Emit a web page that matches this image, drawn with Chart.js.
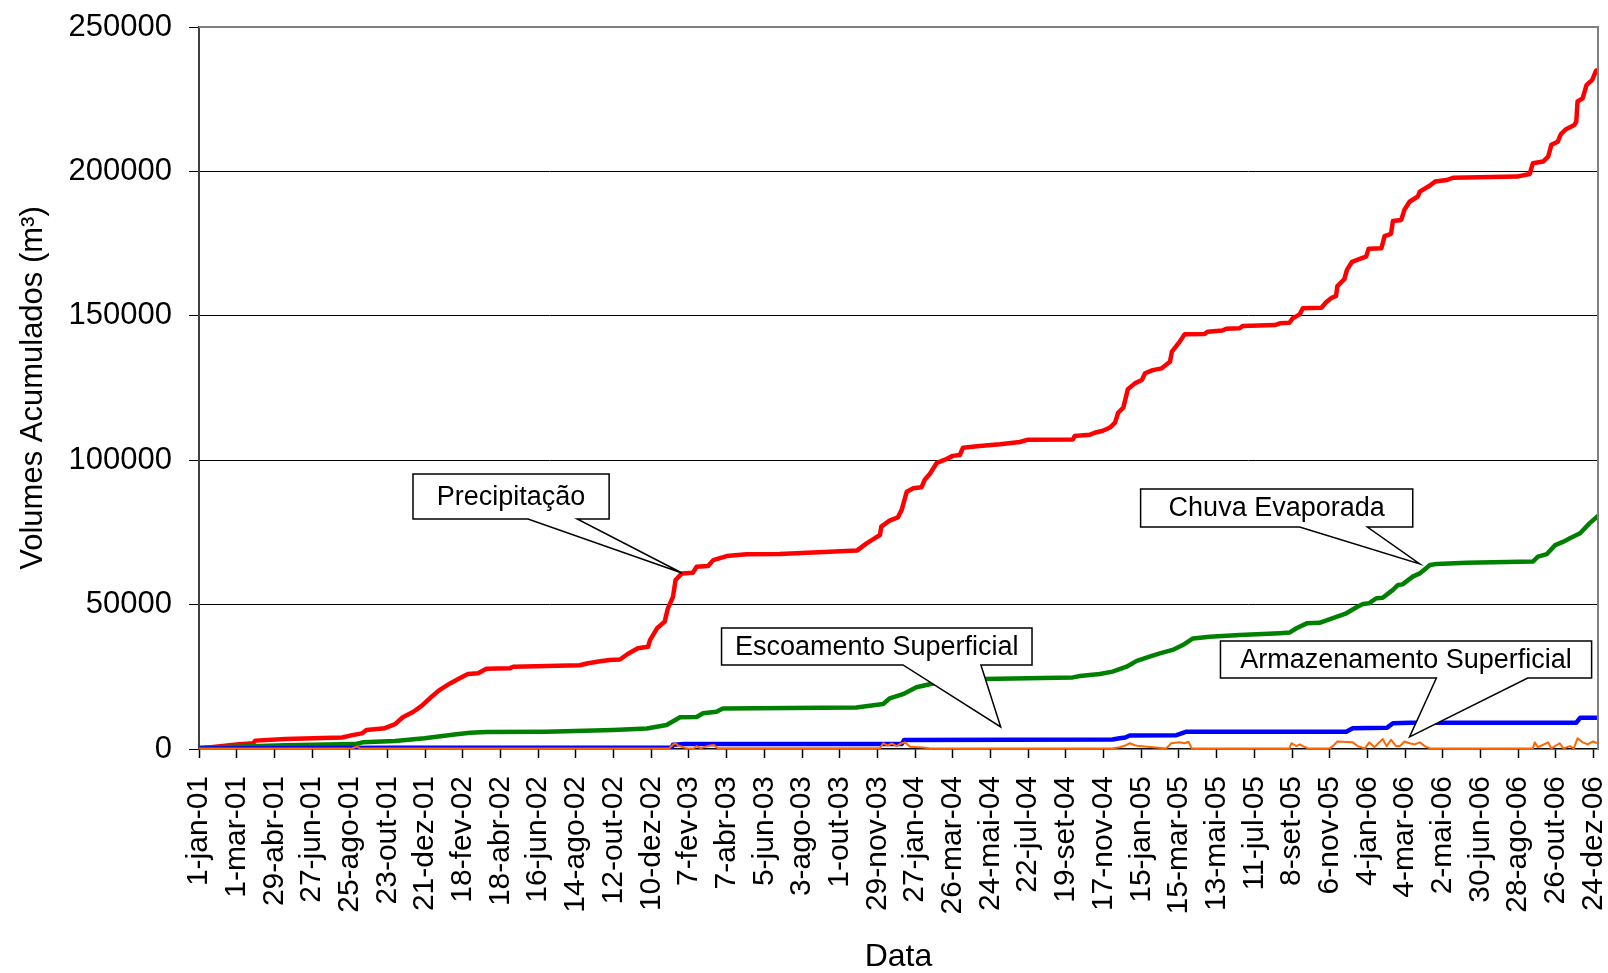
<!DOCTYPE html>
<html>
<head>
<meta charset="utf-8">
<title>Volumes Acumulados</title>
<script src="https://cdn.jsdelivr.net/npm/chart.js@4.4.1/dist/chart.umd.min.js"></script>
<style>
  html, body { margin: 0; padding: 0; background: #ffffff; }
  #grafico { display: block; }
</style>
</head>
<body>
<canvas id="grafico" width="1608" height="973"></canvas>
<script>
// Rótulos do eixo das datas (um a cada 59 dias)
const rotulosData = [
  '1-jan-01', '1-mar-01', '29-abr-01', '27-jun-01', '25-ago-01', '23-out-01', '21-dez-01',
  '18-fev-02', '18-abr-02', '16-jun-02', '14-ago-02', '12-out-02', '10-dez-02',
  '7-fev-03', '7-abr-03', '5-jun-03', '3-ago-03', '1-out-03', '29-nov-03',
  '27-jan-04', '26-mar-04', '24-mai-04', '22-jul-04', '19-set-04', '17-nov-04',
  '15-jan-05', '15-mar-05', '13-mai-05', '11-jul-05', '8-set-05', '6-nov-05',
  '4-jan-06', '4-mar-06', '2-mai-06', '30-jun-06', '28-ago-06', '26-out-06', '24-dez-06'
];
const dataInicial = '1-jan-01';
const dataFinal = '31-dez-06';

// Séries: [dia desde 1-jan-01, volume acumulado em m³]
const precipitacao = [
  [0, 200], [59, 1600], [85, 2000], [88, 2900], [135, 3500], [224, 4000], [240, 4800],
  [255, 5400], [262, 6600], [291, 7200], [307, 8600], [319, 11000], [335, 12800],
  [349, 15000], [365, 18300], [377, 20500], [393, 22700], [408, 24500], [421, 26000],
  [437, 26200], [450, 27800], [487, 28000], [492, 28500], [596, 29000], [609, 29700],
  [628, 30400], [643, 30800], [659, 31000], [671, 32900], [687, 34900], [703, 35400],
  [706, 37700], [717, 41800], [729, 44100], [734, 48700], [742, 52700], [746, 58500],
  [756, 60800], [773, 61000], [779, 63100], [797, 63400], [805, 65400], [826, 66800],
  [857, 67400], [909, 67500], [1030, 68700], [1045, 71200], [1055, 72600], [1066, 74100],
  [1068, 77000], [1081, 79100], [1094, 80200], [1100, 82800], [1108, 89100], [1118, 90300],
  [1131, 90600], [1136, 93200], [1144, 95200], [1155, 99100], [1167, 100100], [1180, 101500],
  [1191, 101800], [1196, 104300], [1222, 104900], [1254, 105500], [1285, 106300], [1298, 107100],
  [1368, 107200], [1371, 108400], [1394, 108800], [1402, 109500], [1415, 110200], [1426, 111300],
  [1434, 113000], [1439, 116500], [1447, 118200], [1454, 124600], [1465, 126600], [1476, 127800],
  [1481, 130100], [1493, 131200], [1507, 131800], [1520, 134100], [1523, 137600], [1535, 141000],
  [1543, 143600], [1574, 143700], [1579, 144500], [1602, 144900], [1608, 145500], [1629, 145700],
  [1634, 146500], [1684, 146800], [1692, 147400], [1707, 147600], [1712, 149100], [1723, 150500],
  [1728, 152600], [1757, 152800], [1764, 154600], [1772, 156100], [1780, 156900], [1782, 160300],
  [1793, 162700], [1797, 165900], [1805, 168700], [1816, 169600], [1827, 170500], [1831, 173200],
  [1851, 173400], [1856, 177600], [1866, 178400], [1869, 182800], [1882, 183200], [1887, 186700],
  [1895, 189500], [1908, 191300], [1911, 193000], [1927, 195100], [1935, 196500], [1953, 197000],
  [1963, 197800], [2063, 198200], [2083, 199100], [2088, 202800], [2104, 203400], [2112, 205100],
  [2117, 209200], [2127, 210300], [2132, 212900], [2140, 214600], [2153, 216100], [2156, 217200],
  [2158, 224200], [2166, 225300], [2172, 229900], [2181, 231700], [2187, 234900], [2190, 235100]
];

const chuvaEvaporada = [
  [0, 400], [135, 1300], [244, 1700], [256, 2300], [307, 2800], [353, 3700], [400, 5000],
  [424, 5600], [450, 5900], [544, 6000], [648, 6600], [701, 7100], [732, 8300], [753, 11000],
  [779, 11100], [789, 12400], [810, 12900], [820, 14000], [1029, 14400], [1071, 15600],
  [1081, 17500], [1102, 19000], [1123, 21400], [1149, 22700], [1190, 23800], [1227, 24200],
  [1368, 24800], [1379, 25300], [1410, 26000], [1430, 26800], [1452, 28500], [1468, 30500],
  [1488, 32000], [1504, 33100], [1524, 34300], [1540, 36000], [1556, 38300], [1582, 38900],
  [1629, 39500], [1692, 40100], [1707, 40300], [1718, 41800], [1734, 43500], [1754, 43700],
  [1775, 45300], [1796, 47000], [1812, 49100], [1822, 50200], [1832, 50500], [1843, 52200],
  [1853, 52400], [1869, 55100], [1877, 56800], [1884, 57000], [1900, 59700], [1911, 60800],
  [1927, 63700], [1938, 64100], [1984, 64500], [2088, 64900], [2096, 66600], [2110, 67500],
  [2123, 70600], [2136, 71800], [2146, 73000], [2162, 74700], [2177, 78200], [2190, 80700]
];

const escoamentoSuperficial = [
  [0, 200], [300, 400], [740, 500], [742, 1500], [760, 1700], [1100, 1700], [1104, 3100],
  [1430, 3300], [1441, 3700], [1450, 4000], [1457, 4700], [1530, 4800], [1546, 6000],
  [1796, 6000], [1806, 7200], [1860, 7400], [1869, 8900], [1895, 9100], [2156, 9100],
  [2162, 10800], [2190, 10800]
];

const armazenamentoSuperficial = [
  [0, 200], [240, 200], [247, 900], [252, 200], [736, 200], [742, 1500], [746, 2000],
  [750, 1200], [758, 600], [765, 200], [775, 300], [779, 1000], [785, 300], [800, 1200],
  [806, 1400], [812, 300], [1066, 300], [1071, 2000], [1078, 1200], [1085, 1900], [1092, 1000],
  [1098, 1800], [1105, 2300], [1113, 800], [1133, 500], [1145, 200], [1430, 200], [1441, 600],
  [1450, 1200], [1457, 2000], [1465, 1300], [1472, 1000], [1493, 600], [1514, 200], [1522, 2000],
  [1535, 2300], [1543, 2000], [1549, 2500], [1554, 200], [1707, 200], [1710, 2000], [1718, 1000],
  [1723, 1600], [1728, 1000], [1736, 200], [1770, 200], [1775, 1000], [1782, 2600], [1806, 2300],
  [1814, 1000], [1825, 200], [1832, 2300], [1840, 600], [1853, 3500], [1859, 1000], [1866, 3200],
  [1874, 1000], [1880, 1000], [1887, 2600], [1895, 2000], [1903, 1600], [1911, 2300], [1919, 1000],
  [1927, 200], [2088, 200], [2091, 2300], [2096, 600], [2112, 2300], [2117, 200], [2130, 2000],
  [2136, 200], [2146, 1000], [2152, 200], [2158, 3700], [2166, 2300], [2174, 1600], [2182, 2600],
  [2190, 2000]
];

// Converte "d-mmm-aa" no número de dias desde 1-jan-01
const meses = { jan: 0, fev: 1, mar: 2, abr: 3, mai: 4, jun: 5, jul: 6, ago: 7, set: 8, out: 9, nov: 10, dez: 11 };
function diaDe(rotulo) {
  const [d, m, a] = rotulo.split('-');
  const t = Date.UTC(2000 + Number(a), meses[m], Number(d));
  return Math.round((t - Date.UTC(2001, 0, 1)) / 86400000);
}
const diasRotulos = rotulosData.map(diaDe);
const pontos = serie => serie.map(([x, y]) => ({ x, y }));

// Caixas de texto com ponteiro, em coordenadas do gráfico (dia, volume)
const chamadas = [
  { texto: 'Precipitação', caixa: [335, 95230, 642, 79650], base: [515, 592], ponta: [756, 60950] },
  { texto: 'Chuva Evaporada', caixa: [1474, 90030, 1900, 76870], base: [1723, 1829], ponta: [1911, 64060] },
  { texto: 'Escoamento Superficial', caixa: [818, 41900, 1304, 29090], base: [1102, 1224], ponta: [1255, 7620] },
  { texto: 'Armazenamento Superficial', caixa: [1599, 37400, 2180, 24580], base: [1937, 2080], ponta: [1895, 4155] }
];

const fonte = '"Liberation Sans", Arial, Helvetica, sans-serif';
Chart.defaults.font.family = fonte;
Chart.defaults.color = '#000000';

// Moldura cinza (topo e direita) da área do gráfico
const pluginMoldura = {
  id: 'moldura',
  afterDatasetsDraw(chart) {
    const { ctx, chartArea: a } = chart;
    ctx.save();
    ctx.strokeStyle = '#808080';
    ctx.lineWidth = 2;
    ctx.beginPath();
    ctx.moveTo(a.left, a.top);
    ctx.lineTo(a.right, a.top);
    ctx.lineTo(a.right, a.bottom);
    ctx.stroke();
    ctx.restore();
  }
};

const pluginChamadas = {
  id: 'chamadas',
  afterDatasetsDraw(chart) {
    const { ctx, scales: { x, y } } = chart;
    ctx.save();
    ctx.lineWidth = 1.5;
    ctx.strokeStyle = '#000000';
    ctx.lineJoin = 'miter';
    ctx.font = '27px ' + fonte;
    for (const c of chamadas) {
      const x1 = x.getPixelForValue(c.caixa[0]), y1 = y.getPixelForValue(c.caixa[1]);
      const x2 = x.getPixelForValue(c.caixa[2]), y2 = y.getPixelForValue(c.caixa[3]);
      const b1 = x.getPixelForValue(c.base[0]), b2 = x.getPixelForValue(c.base[1]);
      const px = x.getPixelForValue(c.ponta[0]), py = y.getPixelForValue(c.ponta[1]);
      ctx.beginPath();
      ctx.moveTo(x1, y1);
      ctx.lineTo(x2, y1);
      ctx.lineTo(x2, y2);
      ctx.lineTo(b2, y2);
      ctx.lineTo(px, py);
      ctx.lineTo(b1, y2);
      ctx.lineTo(x1, y2);
      ctx.closePath();
      ctx.fillStyle = '#ffffff';
      ctx.fill();
      ctx.stroke();
      ctx.fillStyle = '#000000';
      ctx.textAlign = 'center';
      ctx.textBaseline = 'middle';
      ctx.fillText(c.texto, (x1 + x2) / 2, (y1 + y2) / 2 + 1);
    }
    ctx.restore();
  }
};

const linha = (rotulo, serie, cor, largura, ordem) => ({
  label: rotulo,
  data: pontos(serie),
  borderColor: cor,
  backgroundColor: cor,
  borderWidth: largura,
  pointRadius: 0,
  pointHoverRadius: 0,
  tension: 0,
  fill: false,
  borderJoinStyle: 'round',
  borderCapStyle: 'round',
  order: ordem
});

new Chart(document.getElementById('grafico'), {
  type: 'line',
  data: {
    datasets: [
      linha('Precipitação', precipitacao, '#FF0000', 4.5, 4),
      linha('Chuva Evaporada', chuvaEvaporada, '#008000', 4.5, 3),
      linha('Escoamento Superficial', escoamentoSuperficial, '#0000FF', 4.5, 2),
      linha('Armazenamento Superficial', armazenamentoSuperficial, '#FF6600', 2, 1)
    ]
  },
  options: {
    responsive: false,
    animation: false,
    devicePixelRatio: 1,
    layout: { padding: { top: 27, right: 10, bottom: 0, left: 0 } },
    plugins: {
      legend: { display: false },
      tooltip: { enabled: false },
      title: { display: false }
    },
    scales: {
      x: {
        type: 'linear',
        min: diaDe(dataInicial),
        max: diaDe(dataFinal),
        afterBuildTicks(s) { s.ticks = diasRotulos.map(v => ({ value: v })); },
        afterFit(s) { s.height = 224; s.paddingLeft = 0; s.paddingRight = 0; },
        ticks: {
          autoSkip: false,
          minRotation: 90,
          maxRotation: 90,
          padding: 18,
          font: { size: 30 },
          callback: (v, i) => rotulosData[i]
        },
        grid: { drawOnChartArea: false, drawTicks: true, tickLength: 9, tickColor: '#000000', tickWidth: 1.5 },
        border: { display: true, color: '#000000', width: 1.5 },
        title: { display: true, text: 'Data', font: { size: 32, lineHeight: 1 }, padding: { top: 0, bottom: 0 } }
      },
      y: {
        min: 0,
        max: 250000,
        afterFit(s) { s.width = 199; s.paddingTop = 0; s.paddingBottom = 0; },
        ticks: { stepSize: 50000, padding: 17, font: { size: 31 }, callback: v => String(v) },
        grid: {
          color: c => c.tick.value === 0 ? 'rgba(0,0,0,0)' : (c.tick.value === 250000 ? '#808080' : '#000000'),
          lineWidth: 1,
          drawTicks: true,
          tickLength: 10,
          tickColor: '#000000'
        },
        border: { display: true, color: '#404040', width: 2 },
        title: {
          display: true,
          text: 'Volumes Acumulados (m³)',
          font: { size: 31, lineHeight: 1 },
          padding: { top: 18, bottom: 0 }
        }
      }
    }
  },
  plugins: [pluginMoldura, pluginChamadas]
});
</script>
</body>
</html>
